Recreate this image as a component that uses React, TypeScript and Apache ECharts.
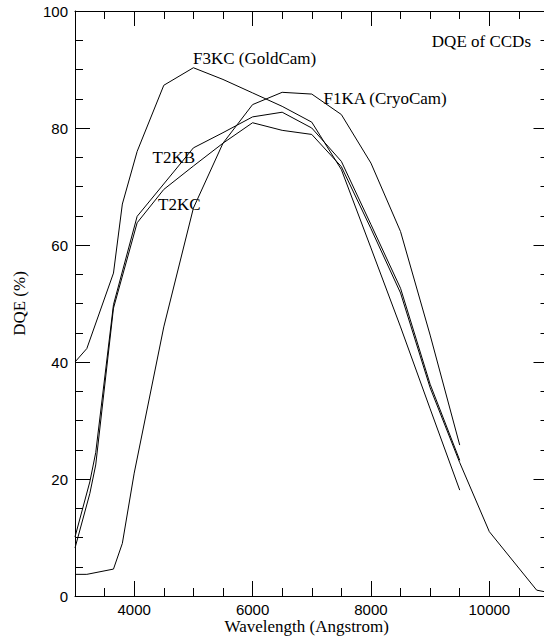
import React, { useEffect, useRef } from 'react';
import * as echarts from 'echarts';

// Axis ticks
const xMajorTicks = [4000, 6000, 8000, 10000];

// F3KC (GoldCam)
const wlF3KC = [3000, 3200, 3650, 3800, 4050, 4500, 5000, 5500, 6000, 6500, 7000, 7500, 8000, 8500, 9000, 9500];
const dqeF3KC = [40, 42.3, 55.2, 67, 76, 87.3, 90.3, 88.3, 86, 83.7, 81, 72.9, 59.5, 46, 32, 18.1];

// F1KA (CryoCam)
const wlF1KA = [3000, 3200, 3650, 3800, 4000, 4500, 5000, 5500, 6000, 6500, 7000, 7500, 8000, 8500, 9000, 9500];
const dqeF1KA = [3.7, 3.7, 4.6, 9.0, 21, 46, 66.3, 77.4, 84.0, 86.1, 85.8, 82.3, 74.0, 62.3, 44.6, 25.8];

// T2KB
const wlT2KB = [3000, 3250, 3350, 3650, 4050, 5000, 5500, 6000, 6500, 7000, 7500, 8000, 8500, 9000, 9500];
const dqeT2KB = [10.1, 19.5, 24.5, 49.8, 64.9, 76.6, 79.2, 81.9, 82.7, 80.0, 74.3, 63.5, 52.6, 36.2, 23.2];

// T2KC
const wlT2KC = [3000, 3250, 3350, 3650, 4050, 4500, 5000, 5500, 6000, 6500, 7000, 7500, 8000, 8500, 9000, 9500, 10000, 10800, 11000];
const dqeT2KC = [8.2, 17.5, 22.4, 49.2, 63.8, 69.5, 73.5, 77.4, 80.9, 79.6, 78.9, 73.4, 62.8, 51.8, 35.6, 22.8, 11.0, 1.0, 0.6];

const zip = (xs: number[], ys: number[]) => xs.map((x, i) => [x, ys[i]]);

const BLACK = '#000';
const SERIF = '"Liberation Serif", "Times New Roman", serif';
const SANS = '"Liberation Sans", Arial, sans-serif';
const lineStyle = { color: BLACK, width: 1 };

function buildOption() {
  const xBase = { type: 'value', min: 3000, max: 11000, splitLine: { show: false }, offset: 0 };
  const yBase = { type: 'value', min: 0, max: 100, interval: 20, splitLine: { show: false }, minorSplitLine: { show: false }, offset: 0 };
  const mk = (name: string, xs: number[], ys: number[]) => ({
    type: 'line',
    name,
    data: zip(xs, ys),
    xAxisIndex: 0,
    yAxisIndex: 0,
    symbol: 'none',
    lineStyle: { color: BLACK, width: 1 },
    silent: true,
  });
  return {
    animation: false,
    backgroundColor: '#fff',
    grid: { left: 75, right: 11.5, top: 11, bottom: 41, containLabel: false, outerBoundsMode: 'none' },
    xAxis: [
      {
        ...xBase, position: 'bottom', interval: 500,
        axisLine: { show: true, onZero: false, lineStyle },
        axisTick: { show: true, inside: true, length: 8, lineStyle },
        axisLabel: { show: false },
      },
      {
        ...xBase, position: 'bottom', interval: 500,
        axisLine: { show: false, onZero: false },
        axisTick: { show: true, inside: true, length: 15, customValues: xMajorTicks, lineStyle },
        axisLabel: {
          show: true, customValues: xMajorTicks, margin: 6, fontFamily: SANS, fontSize: 15, lineHeight: 15, color: BLACK,
          formatter: (v: number) => String(v),
        },
        name: 'Wavelength (Angstrom)',
        nameLocation: 'middle',
        nameGap: 21.5,
        nameMoveOverlap: false,
        nameTextStyle: { fontFamily: SERIF, fontSize: 17, lineHeight: 17, color: BLACK, padding: [0, 10, 0, 0] },
      },
      {
        ...xBase, position: 'top', interval: 500,
        axisLine: { show: true, onZero: false, lineStyle },
        axisTick: { show: true, inside: true, length: 8, lineStyle },
        axisLabel: { show: false },
      },
      {
        ...xBase, position: 'top', interval: 500,
        axisLine: { show: false, onZero: false },
        axisTick: { show: true, inside: true, length: 15, customValues: xMajorTicks, lineStyle },
        axisLabel: { show: false },
      },
    ],
    yAxis: [
      {
        ...yBase, position: 'left',
        axisLine: { show: true, onZero: false, lineStyle },
        axisTick: { show: true, inside: true, length: 15, lineStyle },
        minorTick: { show: true, splitNumber: 4, length: 8, lineStyle },
        axisLabel: { show: true, margin: 7, fontFamily: SANS, fontSize: 15, color: BLACK },
        name: 'DQE (%)',
        nameLocation: 'middle',
        nameRotate: 90,
        nameGap: 47,
        nameMoveOverlap: false,
        nameTextStyle: { fontFamily: SERIF, fontSize: 17, color: BLACK },
      },
      {
        ...yBase, position: 'right',
        axisLine: { show: true, onZero: false, lineStyle },
        axisTick: { show: true, inside: true, length: 15, lineStyle },
        minorTick: { show: true, splitNumber: 4, length: 8, lineStyle },
        axisLabel: { show: false },
      },
    ],
    series: [
      mk('F3KC (GoldCam)', wlF3KC, dqeF3KC),
      mk('F1KA (CryoCam)', wlF1KA, dqeF1KA),
      mk('T2KB', wlT2KB, dqeT2KB),
      mk('T2KC', wlT2KC, dqeT2KC),
    ],
    graphic: [
      { type: 'text', x: 531, y: 41, style: { text: 'DQE of CCDs', fill: BLACK, fontFamily: SERIF, fontSize: 17, align: 'right', verticalAlign: 'middle' } },
      { type: 'text', x: 193, y: 58.7, style: { text: 'F3KC (GoldCam)', fill: BLACK, fontFamily: SERIF, fontSize: 17, align: 'left', verticalAlign: 'middle' } },
      { type: 'text', x: 323.5, y: 98, style: { text: 'F1KA (CryoCam)', fill: BLACK, fontFamily: SERIF, fontSize: 17, align: 'left', verticalAlign: 'middle' } },
      { type: 'text', x: 152.5, y: 157, style: { text: 'T2KB', fill: BLACK, fontFamily: SERIF, fontSize: 17, align: 'left', verticalAlign: 'middle' } },
      { type: 'text', x: 158, y: 204, style: { text: 'T2KC', fill: BLACK, fontFamily: SERIF, fontSize: 17, align: 'left', verticalAlign: 'middle' } },
    ],
  };
}

export default function App() {
  const ref = useRef<HTMLDivElement>(null);
  useEffect(() => {
    if (!ref.current) return;
    const chart = echarts.init(ref.current, null, { renderer: 'svg' });
    chart.setOption(buildOption() as any);
    return () => chart.dispose();
  }, []);
  return (
    <div style={{ position: 'fixed', left: 0, top: 0, width: 544, height: 637, overflow: 'hidden', background: '#fff' }}>
      <div ref={ref} style={{ width: 560, height: 637 }} />
    </div>
  );
}
